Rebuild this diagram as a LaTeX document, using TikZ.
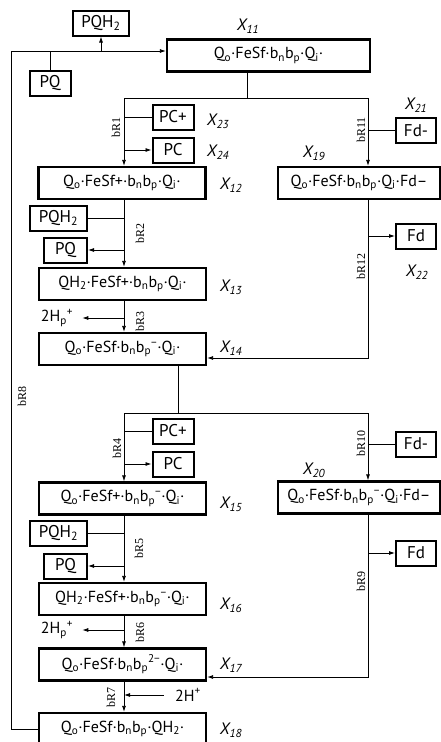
\documentclass[tikz,border=0pt]{standalone}
\usepackage{fontspec}
\setmainfont{PT Sans}
\newfontfamily\rfont{Liberation Serif}
\usetikzlibrary{arrows.meta}
\newcommand{\sbs}[1]{\textsubscript{#1}}
\newcommand{\sps}[1]{\textsuperscript{#1}}
\tikzset{
  state/.style={draw,line width=2.2pt,minimum width=167pt,minimum height=32pt,inner sep=0pt,font=\fontsize{16}{18}\selectfont},
  spec/.style={draw,line width=2pt,minimum width=41pt,minimum height=25pt,inner sep=2pt,font=\fontsize{17}{18}\selectfont},
  conn/.style={line width=0.8pt},
  arr/.style={conn,-{Latex[length=6pt,width=4pt]}},
  xlab/.style={font=\fontsize{16.5}{18}\selectfont\itshape,inner sep=0pt},
  rlab/.style={font=\rfont\fontsize{12}{13}\selectfont,rotate=90,inner sep=0pt},
  ion/.style={font=\fontsize{16}{18}\selectfont,inner sep=0pt}
}
\begin{document}
\begin{tikzpicture}[x=1pt,y=-1pt]
\useasboundingbox (0,0) rectangle (440,742);
\node[state,minimum width=203pt] (x11) at (268.5,55.5) {Q\sbs{o}·FeSf·b\sbs{n}b\sbs{p}·Q\sbs{i}·};
\node[state] (x12) at (122,183) {Q\sbs{o}·FeSf+·b\sbs{n}b\sbs{p}·Q\sbs{i}·};
\node[state] (x13) at (122.5,284) {QH\sbs{2}·FeSf+·b\sbs{n}b\sbs{p}·Q\sbs{i}·};
\node[state] (x14) at (122.5,349) {Q\sbs{o}·FeSf·b\sbs{n}b\sbs{p}\sps{−}·Q\sbs{i}·};
\node[state] (x15) at (122.5,498.5) {Q\sbs{o}·FeSf+·b\sbs{n}b\sbs{p}\sps{−}·Q\sbs{i}·};
\node[state] (x16) at (122.5,599) {QH\sbs{2}·FeSf+·b\sbs{n}b\sbs{p}\sps{−}·Q\sbs{i}·};
\node[state] (x17) at (122.5,664.5) {Q\sbs{o}·FeSf·b\sbs{n}b\sbs{p}\sps{2−}·Q\sbs{i}·};
\node[state] (x18) at (122.5,729) {Q\sbs{o}·FeSf·b\sbs{n}b\sbs{p}·QH\sbs{2}·};
\node[state,minimum width=162pt] (x19) at (359,183) {Q\sbs{o}·FeSf·b\sbs{n}b\sbs{p}·Q\sbs{i}·Fd–};
\node[state,minimum width=162pt] (x20) at (359,497.5) {Q\sbs{o}·FeSf·b\sbs{n}b\sbs{p}\sps{−}·Q\sbs{i}·Fd–};
\node[spec,minimum width=56pt] (pqh1) at (101,23) {PQH\sbs{2}};
\node[spec] (pq1) at (50,83.5) {PQ};
\node[spec] (pcp1) at (173,117) {PC+};
\node[spec] (pc1) at (173,150) {PC};
\node[spec,minimum width=40pt] (fdm1) at (416,130.5) {Fd-};
\node[spec,minimum width=40pt] (fd1) at (416,236) {Fd};
\node[spec,minimum width=57pt] (pqh2) at (58.5,218) {PQH\sbs{2}};
\node[spec,minimum width=43pt] (pq2) at (65.5,250) {PQ};
\node[spec] (pcp2) at (173,431) {PC+};
\node[spec] (pc2) at (173,464) {PC};
\node[spec,minimum width=40pt] (fdm2) at (416,444) {Fd-};
\node[spec,minimum width=40pt] (fd2) at (416,553) {Fd};
\node[spec,minimum width=57pt] (pqh3) at (58.5,533) {PQH\sbs{2}};
\node[spec,minimum width=43pt] (pq3) at (65.5,566) {PQ};
\node[ion] (hp1) at (57,318) {2H\sbs{p}\sps{+}};
\node[ion] (hp2) at (57,630) {2H\sbs{p}\sps{+}};
\node[ion] (h2) at (188,695) {2H\sps{+}};
\foreach \n/\x/\y in {11/248/26,23/218/121,24/218/152,12/231/185,21/416/105,19/314/153,22/417/272,13/231/287,14/231/348,
  15/231/504,20/314/470,16/231/605,17/231/665,18/231/730}{\node[xlab] (l\n) at (\x,\y) {X\textsubscript{\n}};}
\foreach \n/\x/\y in {1/116/127,11/361/130,2/140/233,12/361/266,3/140/321,8/22/396,4/117/448,10/361/443,5/139/548,
  9/361/581,6/140/632,7/111/697}{\node[rlab] (r\n) at (\x,\y) {bR\n};}
\coordinate (lp) at (11,51);
\coordinate (cl) at (124,0);
\coordinate (cr) at (368,0);
\coordinate (s1) at (247,98);
\coordinate (s2) at (178,413);
\coordinate (j1) at (368,358);
\coordinate (j2) at (368,677);
\draw[arr] (x18.west) -| (lp) -- (lp -| x11.west);
\draw[conn] (pq1.north) -- (pq1.north |- lp);
\draw[arr] (pqh1.south |- lp) -- (pqh1.south);
\draw[conn] (x11.south -| s1) -- (s1);
\draw[arr] (s1) -| (x12.north -| cl);
\draw[arr] (s1) -| (x19.north -| cr);
\draw[conn] (pcp1.west) -- (pcp1.west -| cl);
\draw[arr] (pc1.west -| cl) -- (pc1.west);
\draw[conn] (fdm1.west) -- (fdm1.west -| cr);
\draw[arr] (fd1.west -| cr) -- (fd1.west);
\draw[arr] (x19.south -| cr) |- (j1 -| x14.east);
\draw[arr] (x12.south -| cl) -- (x13.north -| cl);
\draw[conn] (pqh2.east) -- (pqh2.east -| cl);
\draw[arr] (pq2.east -| cl) -- (pq2.east);
\draw[arr] (x13.south -| cl) -- (x14.north -| cl);
\draw[arr] (hp1.east -| cl) -- ([xshift=9pt]hp1.east);
\draw[conn] (x14.south -| s2) -- (s2);
\draw[arr] (s2) -| (x15.north -| cl);
\draw[arr] (s2) -| (x20.north -| cr);
\draw[conn] (pcp2.west) -- (pcp2.west -| cl);
\draw[arr] (pc2.west -| cl) -- (pc2.west);
\draw[conn] (fdm2.west) -- (fdm2.west -| cr);
\draw[arr] (fd2.west -| cr) -- (fd2.west);
\draw[arr] (x20.south -| cr) |- (j2 -| x17.east);
\draw[arr] (x15.south -| cl) -- (x16.north -| cl);
\draw[conn] (pqh3.east) -- (pqh3.east -| cl);
\draw[arr] (pq3.east -| cl) -- (pq3.east);
\draw[arr] (x16.south -| cl) -- (x17.north -| cl);
\draw[arr] (hp2.east -| cl) -- ([xshift=9pt]hp2.east);
\draw[arr] (x17.south -| cl) -- (x18.north -| cl);
\draw[arr] ([xshift=-11pt]h2.west) -- (h2.west -| cl);
\end{tikzpicture}
\end{document}
